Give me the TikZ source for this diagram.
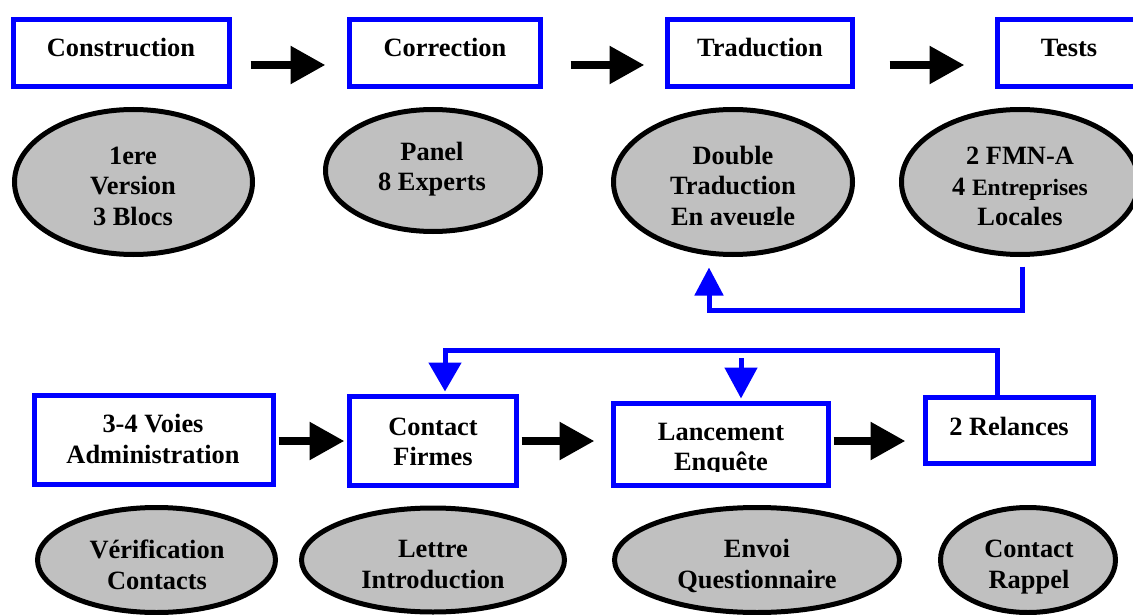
\documentclass[tikz,border=0pt]{standalone}
\usepackage{fontspec}
\setmainfont{Liberation Serif}
\usetikzlibrary{arrows.meta,shapes.geometric}
\definecolor{stepblue}{RGB}{0,0,255}
\definecolor{notegray}{RGB}{192,192,192}
% uniform line strut: every text line gets the same height and depth
\newcommand{\ls}{\rule[-6pt]{0pt}{29.5pt}}
\begin{document}
\begin{tikzpicture}[x=1pt,y=-1pt,
  stepbox/.style={rectangle,draw=stepblue,fill=white,line width=5pt,inner sep=0pt},
  note/.style={ellipse,draw=black,fill=notegray,line width=5pt,inner sep=0pt},
  lbl/.style={inner sep=0pt,align=center,font=\bfseries\fontsize{26.4}{30.5}\selectfont},
  flow/.style={line width=8.5pt,-{Triangle[length=35pt,width=36pt]}},
  loopline/.style={draw=stepblue,line width=5pt},
]
\clip (0,0) rectangle (1133,615);
\fill[white] (0,0) rectangle (1133,615);

% ---------- upper chain: steps ----------
\node[stepbox,minimum width=216pt,minimum height=67pt] (cons) at (121.5,53) {};
\node[stepbox,minimum width=191pt,minimum height=67pt] (corr) at (445,53) {};
\node[stepbox,minimum width=185pt,minimum height=67pt] (trad) at (760,53) {};
\node[stepbox,minimum width=143pt,minimum height=67pt] (tests) at (1069,53) {};

\node[lbl] (consT) at (121,48) {\ls Construction};
\node[lbl] (corrT) at (445,48) {\ls Correction};
\node[lbl] (tradT) at (760,48) {\ls Traduction};
\node[lbl] (testsT) at (1069,48) {\ls Tests};

% ---------- upper chain: details ----------
\node[note,minimum width=238pt,minimum height=145pt] (blocs) at (133.5,182) {};
\node[note,minimum width=215pt,minimum height=122pt] (panel) at (433,170.5) {};
\node[note,minimum width=239pt,minimum height=145pt] (dbl) at (733,182) {};
\node[note,minimum width=237pt,minimum height=145pt] (fmn) at (1020,182) {};

\node[lbl] (blocsT) at (133,186) {\ls 1ere\\\ls Version\\\ls 3 Blocs};
\node[lbl] (panelT) at (432,166.5) {\ls Panel\\\ls 8 Experts};
\begin{scope}
  \clip (600,100) rectangle (870,224.5);
  \node[lbl] (dblT) at (733,186) {\ls Double\\\ls Traduction\\\ls En aveugle};
\end{scope}
\node[lbl] (fmnT) at (1020,186.7) {\ls 2 FMN-A\\\ls 4 {\fontsize{23.5}{30.5}\selectfont Entreprises}\\\ls Locales};

% ---------- upper chain: arrows ----------
\draw[flow] ([xshift=18.5pt,yshift=-12pt]cons.east) -- ([xshift=-21.5pt,yshift=-12pt]corr.west);
\draw[flow] ([xshift=27.5pt,yshift=-12pt]corr.east) -- ([xshift=-20.5pt,yshift=-12pt]trad.west);
\draw[flow] ([xshift=34.5pt,yshift=-12pt]trad.east) -- ([xshift=-30.5pt,yshift=-12pt]tests.west);

% feedback from the tests back to the translation
\draw[loopline,-{Triangle[length=28pt,width=28pt]}]
  ([xshift=2pt,yshift=-9.5pt]fmn.south) -- ++(0,44)
  -| ([xshift=-24pt,yshift=-10.5pt]dbl.south);

% ---------- lower chain: steps ----------
\node[stepbox,minimum width=239pt,minimum height=89pt] (voies) at (154,440) {};
\node[stepbox,minimum width=167pt,minimum height=89pt] (firm) at (433,441) {};
\node[stepbox,minimum width=215pt,minimum height=82pt] (lanc) at (721,444.5) {};
\node[stepbox,minimum width=168pt,minimum height=66pt] (rel) at (1009.5,430.5) {};

\node[lbl] (voiesT) at (153,439) {\ls 3-4 Voies\\\ls Administration};
\node[lbl] (firmT) at (433,441.5) {\ls Contact\\\ls Firmes};
\begin{scope}
  \clip (600,400) rectangle (840,471.5);
  \node[lbl] (lancT) at (721,446.7) {\ls Lancement\\\ls Enqu\^ete};
\end{scope}
\node[lbl] (relT) at (1009,426.5) {\ls 2 Relances};

% ---------- lower chain: details ----------
\node[note,minimum width=238pt,minimum height=105pt] (verif) at (156.5,560) {};
\node[note,minimum width=263pt,minimum height=104pt] (lettre) at (433,560) {};
\node[note,minimum width=285pt,minimum height=105pt] (envoi) at (757,560) {};
\node[note,minimum width=175pt,minimum height=105pt] (rappel) at (1028,560) {};

\node[lbl] (verifT) at (157,565) {\ls V\'erification\\\ls Contacts};
\node[lbl] (lettreT) at (433,564) {\ls Lettre\\\ls Introduction};
\node[lbl] (envoiT) at (757,564) {\ls Envoi\\\ls Questionnaire};
\node[lbl] (rappelT) at (1029,564) {\ls Contact\\\ls Rappel};

% ---------- lower chain: arrows ----------
\draw[flow] ([xshift=2.5pt,yshift=-1pt]voies.east) -- ([xshift=-2.5pt]firm.west);
\draw[flow] ([xshift=2.5pt]firm.east) -- ([xshift=-16.5pt,yshift=3.5pt]lanc.west);
\draw[flow] ([xshift=2.5pt,yshift=3.5pt]lanc.east) -- ([xshift=-17.5pt,yshift=-10.5pt]rel.west);

% reminders loop back to the firm contact and the survey launch
\draw[loopline,-{Triangle[length=29pt,width=32pt]}]
  ([xshift=-12.5pt]rel.north) -- ++(0,-44.5)
  -| ([xshift=12pt,yshift=2.5pt]firm.north);
\coordinate (stub) at (741,358);
\draw[loopline,-{Triangle[length=31pt,width=32pt]}]
  (stub) -- ([xshift=20pt,yshift=2.5pt]lanc.north);
\end{tikzpicture}
\end{document}
